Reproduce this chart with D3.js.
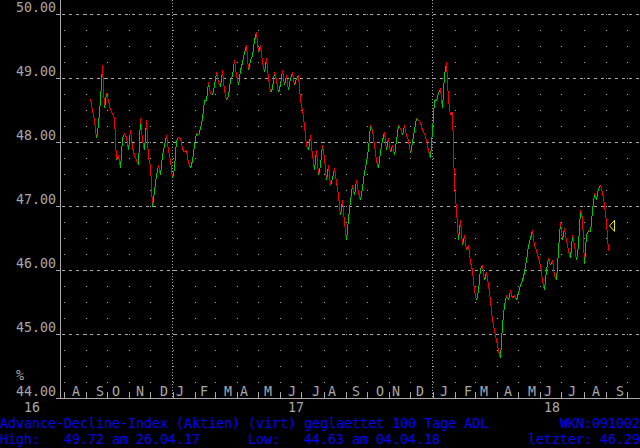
<!DOCTYPE html>
<html><head><meta charset="utf-8">
<script src="https://cdn.jsdelivr.net/npm/d3@7"></script>
<style>
html,body{margin:0;padding:0;background:#000;}
svg{display:block;background:#000;}
text{font-family:"DejaVu Sans Mono","Liberation Mono",monospace;font-size:13.3px;white-space:pre;}
</style></head><body>
<svg id="c" width="640" height="448"></svg>
<script>
// ---- data ----
const adlValues = [
48.67,48.50,48.34,48.06,48.28,48.66,49.20,48.53,48.77,48.66,
48.50,48.45,48.38,47.72,47.80,47.59,48.06,48.14,48.08,47.88,
48.19,47.92,47.80,47.72,47.64,48.38,48.03,47.88,48.34,47.75,
47.64,46.98,47.25,47.48,47.64,47.48,47.80,47.95,48.11,47.88,
47.72,47.44,47.59,48.03,48.08,48.06,47.91,47.84,47.88,47.69,
47.59,47.72,47.95,48.14,48.11,48.22,48.38,48.66,48.66,48.94,
48.77,48.73,48.89,49.09,48.94,48.86,
49.12,48.81,48.66,48.73,48.97,49.05,49.28,49.05,48.89,49.12,
49.25,49.41,49.52,49.12,49.28,49.36,49.59,49.72,49.41,49.52,
49.25,49.09,49.31,49.00,48.78,48.84,49.09,48.97,48.78,48.91,
49.12,48.89,49.05,48.81,49.00,49.09,48.89,49.00,49.05,48.66,
48.50,48.27,47.95,47.88,48.11,47.80,47.56,47.88,47.48,47.64,
47.95,47.75,47.41,47.64,47.33,47.44,47.59,47.38,47.17,46.86,
47.09,46.75,46.47,46.81,47.09,47.33,47.17,47.41,47.22,47.09,
47.28,47.53,47.69,47.91,48.27,48.19,47.95,47.72,47.59,47.84,
48.03,48.16,47.88,48.06,47.84,47.95,47.80,48.03,48.27,48.22,
48.11,48.27,48.11,48.03,47.83,48.00,48.19,48.38,48.34,48.31,
48.19,48.14,48.03,47.88,47.75,48.19,48.66,48.66,48.77,48.84,
48.53,49.05,49.25,48.66,48.42,48.47,47.33,46.94,46.47,46.78,
46.39,46.55,46.31,46.39,46.13,46.00,45.69,45.53,45.69,46.03,
46.08,45.84,45.97,45.77,45.53,45.22,45.06,44.91,44.75,44.63,
45.14,45.45,45.61,45.53,45.69,45.56,45.61,45.53,45.66,45.77,
45.84,45.97,46.16,46.39,46.50,46.63,46.39,46.31,46.19,46.08,
45.84,45.69,46.02,46.19,46.08,46.16,45.92,45.84,46.31,46.75,
46.47,46.66,46.47,46.31,46.19,46.55,46.39,46.16,46.39,46.94,
46.81,46.09,46.55,46.63,46.59,46.94,47.20,47.09,47.28,47.33,
47.22,47.02,46.75,46.29
];
const firstDate = "2016-09-07";
const lastDate = "2018-09-04";
const yTickValues = [44, 45, 46, 47, 48, 49, 50];
const monthLetters = ["J","F","M","A","M","J","J","A","S","O","N","D"];
const yearLabels = [2016, 2017, 2018];
const unitLabel = "%";
const titleText = "Advance-Decline-Index (Aktien) (virt) geglaettet 100 Tage ADL";
const wknText = "WKN:091002";
const highInfo = ["High:", "49.72", "26.04.17"];
const lowInfo = ["Low:", "44.63", "04.04.18"];
const lastInfo = ["letzter:", "46.29"];
const markerValue = [46.69];

// ---- drawing ----
const svg = d3.select("#c");
const GRAY = "#a8a8a8", BLUE = "#0000ff", GREEN = "#00c800", RED = "#f00000", YELLOW = "#f0f000";
const CW = 8, RH = 16;
const parse = d3.timeParse("%Y-%m-%d");
const y = d3.scaleLinear().domain([44, 50]).range([398, 14]);
const xT = d3.scaleTime().domain([new Date(2017,0,1), new Date(2018,0,1)]).range([172.5, 432.5]);
const t0 = parse(firstDate), t1 = parse(lastDate);
const idx = d3.scaleLinear().domain([0, adlValues.length - 1]).range([t0.getTime(), t1.getTime()]);
const xOf = i => Math.round(xT(new Date(idx(i))));

function txt(col, row, s, color) {
  svg.append("text").attr("x", col * CW).attr("y", row * RH + 12)
    .attr("fill", color).text(s);
}

const g = svg.append("g").attr("shape-rendering", "crispEdges");

// month boundaries
const months = d3.timeMonth.range(new Date(2016,6,1), new Date(2018,11,1));
const bx = months.map(m => Math.round(xT(m))).filter(v => v > 61 && v < 640);

// dot grid
const dotYs = d3.range(0, 24).map(k => 14 + 16 * k);
bx.forEach(xx => {
  dotYs.forEach(yy => {
    g.append("rect").attr("x", xx).attr("y", yy).attr("width", 1).attr("height", 1).attr("fill", GRAY);
  });
  g.append("line").attr("x1", xx + 0.5).attr("x2", xx + 0.5).attr("y1", 392).attr("y2", 398)
    .attr("stroke", GRAY);
});

// dashed horizontal grid lines
yTickValues.filter(v => v > 44).forEach(v => {
  const yy = Math.round(y(v)) + 0.5;
  g.append("line").attr("x1", 56).attr("x2", 61).attr("y1", yy).attr("y2", yy).attr("stroke", GRAY);
  g.append("line").attr("x1", 62).attr("x2", 640).attr("y1", yy).attr("y2", yy)
    .attr("stroke", GRAY).attr("stroke-dasharray", "3,4");
});

// year separators (dotted)
[new Date(2017,0,1), new Date(2018,0,1)].forEach(d => {
  const xx = Math.floor(xT(d)) + 0.5;
  g.append("line").attr("x1", xx).attr("x2", xx).attr("y1", 0).attr("y2", 398)
    .attr("stroke", GRAY).attr("stroke-dasharray", "1,2");
});

// axes
g.append("line").attr("x1", 56).attr("x2", 640).attr("y1", 398.5).attr("y2", 398.5).attr("stroke", GRAY);
g.append("line").attr("x1", 60.5).attr("x2", 60.5).attr("y1", 0).attr("y2", 399).attr("stroke", GRAY);

// series: segments coloured by direction
const lg = svg.append("g").attr("shape-rendering", "crispEdges");
for (let i = 1; i < adlValues.length; i++) {
  const up = adlValues[i] >= adlValues[i - 1];
  lg.append("line")
    .attr("x1", xOf(i - 1) + 0.5).attr("y1", Math.round(y(adlValues[i - 1])) + 0.5)
    .attr("x2", xOf(i) + 0.5).attr("y2", Math.round(y(adlValues[i])) + 0.5)
    .attr("stroke", up ? GREEN : RED).attr("stroke-width", 1);
}

// marker triangle
const mx = xOf(adlValues.length - 1) + 1, my = y(markerValue[0]);
svg.append("path")
  .attr("d", `M${mx + 0.5},${my}L${mx + 5.5},${my - 5.5}L${mx + 5.5},${my + 5.5}Z`)
  .attr("fill", "none").attr("stroke", YELLOW).attr("stroke-width", 1);

// y labels
yTickValues.forEach(v => {
  svg.append("text").attr("x", 56).attr("y", Math.round(y(v)) - 2)
    .attr("text-anchor", "end").attr("fill", GRAY).text(d3.format(".2f")(v));
});
txt(2, 23, unitLabel, GRAY);

// month letters
months.forEach(m => {
  const next = d3.timeMonth.offset(m, 1);
  const mid = (xT(m) + xT(next)) / 2;
  if (mid < 62 || mid > 636) return;
  const col = Math.round((mid - 4) / CW);
  txt(col, 24, monthLetters[m.getMonth()], GRAY);
});

// year labels
yearLabels.forEach(yr => {
  const c = xT(new Date(yr, 5, 20));
  const col = Math.round((c - 8) / CW);
  txt(col, 25, String(yr % 100).padStart(2, "0"), GRAY);
});

// footer
txt(0, 26, titleText, BLUE);
txt(80 - wknText.length, 26, wknText, BLUE);
txt(0, 27, highInfo[0], BLUE);
txt(8, 27, highInfo[1] + " am " + highInfo[2], BLUE);
txt(31, 27, lowInfo[0], BLUE);
txt(38, 27, lowInfo[1] + " am " + lowInfo[2], BLUE);
txt(66, 27, lastInfo[0] + " " + lastInfo[1], BLUE);
</script>
</body></html>
